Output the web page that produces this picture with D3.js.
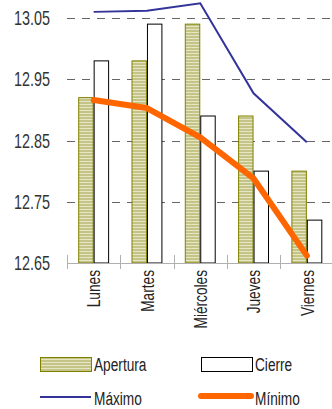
<!DOCTYPE html>
<html lang="es">
<head>
<meta charset="UTF-8">
<title>Cotizaciones</title>
<script src="https://cdn.jsdelivr.net/npm/d3@7"></script>
<style>
  body { margin: 0; background: #fff; }
  text { font-family: "Liberation Sans", Arial, sans-serif; fill: #222; }
</style>
</head>
<body>
<div id="chart"></div>
<script>
var dias = ['Lunes', 'Martes', 'Miércoles', 'Jueves', 'Viernes'];
var apertura = [12.92, 12.98, 13.04, 12.89, 12.80];
var cierre = [12.98, 13.04, 12.89, 12.80, 12.72];
var maximo = [13.06, 13.062, 13.074, 12.927, 12.847];
var minimo = [12.916, 12.903, 12.855, 12.788, 12.662];
var yTicks = [12.65, 12.75, 12.85, 12.95, 13.05];

var width = 332, height = 409;
var mLeft = 67, mRight = 333.5, mTop = 18, mBottom = 263;
var squeeze = 0.72; // narrow font look

var svg = d3.select('#chart').append('svg')
    .attr('width', width)
    .attr('height', height);

// striped fill for Apertura
var defs = svg.append('defs');
var pat = defs.append('pattern')
    .attr('id', 'rayas')
    .attr('patternUnits', 'userSpaceOnUse')
    .attr('width', 4).attr('height', 3);
pat.append('rect').attr('width', 4).attr('height', 3).attr('fill', '#c4c488');
pat.append('rect').attr('y', 2).attr('width', 4).attr('height', 1).attr('fill', '#e6e6c4');

var x = d3.scaleBand()
    .domain(dias)
    .range([mLeft, mRight])
    .paddingInner(0.42)
    .paddingOuter(0.21);

var xs = d3.scaleBand()
    .domain(['a', 'c'])
    .range([0, x.bandwidth()]);

var y = d3.scaleLinear()
    .domain([12.65, 13.05])
    .range([mBottom, mTop]);

// gridlines
svg.append('g').selectAll('line')
    .data(yTicks.slice(1))
    .enter().append('line')
    .attr('x1', mLeft).attr('x2', width)
    .attr('y1', function(d){ return Math.round(y(d)) + 0.5 })
    .attr('y2', function(d){ return Math.round(y(d)) + 0.5 })
    .attr('stroke', '#666')
    .attr('stroke-dasharray', '8,7');

// y labels
svg.append('g').selectAll('text')
    .data(yTicks)
    .enter().append('text')
    .attr('transform', function(d){ return 'translate(50,' + y(d) + ') scale(' + squeeze + ',1)' })
    .attr('dy', '0.35em')
    .attr('text-anchor', 'end')
    .style('font-size', '20px')
    .style('fill', '#333')
    .text(function(d){ return d.toFixed(2) });

// bars
var grupos = svg.append('g').selectAll('g')
    .data(dias)
    .enter().append('g')
    .attr('transform', function(d){ return 'translate(' + x(d) + ',0)' });

grupos.append('rect')
    .attr('x', xs('a') + 0.5)
    .attr('y', function(d, i){ return y(apertura[i]) })
    .attr('width', xs.bandwidth() - 1)
    .attr('height', function(d, i){ return mBottom - y(apertura[i]) })
    .attr('fill', 'url(#rayas)')
    .attr('stroke', '#808000');

grupos.append('rect')
    .attr('x', xs('c') + 0.5)
    .attr('y', function(d, i){ return y(cierre[i]) })
    .attr('width', xs.bandwidth() - 1)
    .attr('height', function(d, i){ return mBottom - y(cierre[i]) })
    .attr('fill', '#fff')
    .attr('stroke', '#000');

// x axis
svg.append('line')
    .attr('x1', mLeft).attr('x2', width)
    .attr('y1', mBottom + 0.5).attr('y2', mBottom + 0.5)
    .attr('stroke', '#b0b0b0');

var step = x.step();
svg.append('g').selectAll('line')
    .data(d3.range(dias.length + 1))
    .enter().append('line')
    .attr('x1', function(i){ return Math.round(mLeft + i * step) + 0.5 })
    .attr('x2', function(i){ return Math.round(mLeft + i * step) + 0.5 })
    .attr('y1', mBottom - 8).attr('y2', mBottom + 6)
    .attr('stroke', '#b0b0b0');

svg.append('g').selectAll('text')
    .data(dias)
    .enter().append('text')
    .attr('transform', function(d){
        return 'translate(' + (x(d) + x.bandwidth() / 2) + ',270) rotate(-90) scale(' + squeeze + ',1)';
    })
    .attr('dy', '0.35em')
    .attr('text-anchor', 'end')
    .style('font-size', '19px')
    .text(function(d){ return d });

// lines
var linea = d3.line()
    .x(function(d, i){ return x(dias[i]) + x.bandwidth() / 2 })
    .y(function(d){ return y(d) });

svg.append('path')
    .datum(maximo)
    .attr('d', linea)
    .attr('fill', 'none')
    .attr('stroke', '#333399')
    .attr('stroke-width', 2);

svg.append('path')
    .datum(minimo)
    .attr('d', linea)
    .attr('fill', 'none')
    .attr('stroke', '#ff6600')
    .attr('stroke-width', 6)
    .attr('stroke-linecap', 'round')
    .attr('stroke-linejoin', 'round');

// legend
function legText(tx, ty, s) {
    leg.append('text')
        .attr('transform', 'translate(' + tx + ',' + ty + ') scale(' + squeeze + ',1)')
        .style('font-size', '19px')
        .text(s);
}
var leg = svg.append('g');
leg.append('rect').attr('x', 40.5).attr('y', 357.5).attr('width', 51).attr('height', 14)
    .attr('fill', 'url(#rayas)').attr('stroke', '#808000');
legText(94, 371, 'Apertura');
leg.append('rect').attr('x', 201.5).attr('y', 357.5).attr('width', 51).attr('height', 14)
    .attr('fill', '#fff').attr('stroke', '#000');
legText(255, 371, 'Cierre');
leg.append('line').attr('x1', 40).attr('x2', 91).attr('y1', 397).attr('y2', 397)
    .attr('stroke', '#333399').attr('stroke-width', 2);
legText(94, 405, 'Máximo');
leg.append('line').attr('x1', 201).attr('x2', 251).attr('y1', 396).attr('y2', 396)
    .attr('stroke', '#ff6600').attr('stroke-width', 6).attr('stroke-linecap', 'round');
legText(255, 405, 'Mínimo');
</script>
</body>
</html>
